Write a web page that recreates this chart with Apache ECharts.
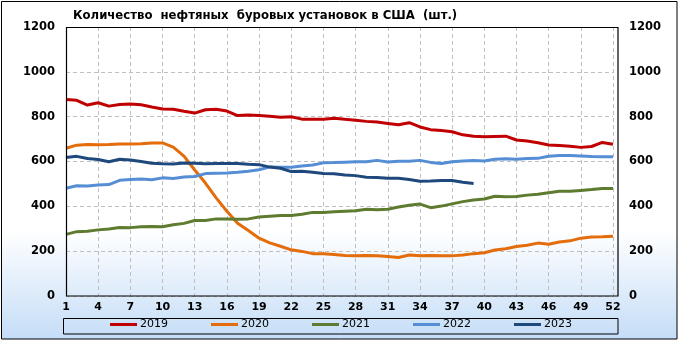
<!DOCTYPE html>
<html>
<head>
<meta charset="utf-8">
<script src="https://cdn.jsdelivr.net/npm/echarts@6/dist/echarts.min.js"></script>
<style>html,body{margin:0;padding:0;background:#fff;}#c{width:682px;height:341px;}</style>
</head>
<body>
<div id="c"></div>
<script>
const titleText = 'Количество  нефтяных  буровых установок в США  (шт.)';
const weeks = [];
for (let i = 1; i <= 52; i++) weeks.push(String(i));
const yTicks = { min: 0, max: 1200, interval: 200 };

const s2019 = [877,873,852,862,847,854,857,853,843,834,833,824,816,831,833,825,805,807,805,802,797,800,789,788,789,793,788,784,779,776,770,764,773,754,742,738,733,719,713,710,712,713,696,691,684,674,671,668,663,667,685,677];
const s2020 = [659,673,676,675,676,678,678,679,682,683,664,624,562,504,438,378,325,292,258,237,222,206,199,189,188,185,181,180,181,180,176,172,183,180,181,180,179,183,189,193,205,211,221,226,236,231,241,246,258,263,264,267];
const s2021 = [275,287,289,295,299,306,305,309,310,309,318,324,337,337,344,343,342,344,352,356,359,359,365,373,372,376,378,380,387,385,387,397,405,410,394,401,411,421,428,433,445,443,444,450,454,461,467,467,471,475,480,480];
const s2022 = [481,492,491,495,497,516,520,522,519,527,524,531,533,546,548,549,552,557,563,576,574,574,580,584,594,595,597,599,599,605,598,601,601,605,596,591,599,602,604,602,610,612,610,613,614,623,627,627,625,622,621,621];
const s2023 = [618,623,613,609,599,610,607,600,592,590,589,593,592,590,591,591,591,588,586,575,570,555,556,552,546,545,540,537,530,529,525,525,520,512,513,515,515,507,502];

const seriesNames = ['2019','2020','2021','2022','2023'];
const seriesData = [s2019, s2020, s2021, s2022, s2023];
const colors = ['#C00000','#E46C0A','#5E7B2F','#558ED5','#1F497D'];

const chart = echarts.init(document.getElementById('c'), null, {renderer:'canvas'});
const FONT = 'DejaVu Sans';
const plain = v => String(v);
const option = {
  backgroundColor: '#ffffff',
  animation: false,
  textStyle: { fontFamily: FONT },
  title: {
    text: titleText, left: 68, top: 5,
    textStyle: { fontFamily: FONT, fontSize: 11.7, fontWeight: 'bold', color: '#000' }
  },
  graphic: [
    { type: 'rect', z: -10, silent: true,
      shape: { x: 1.5, y: 1.5, width: 675.5, height: 337.5 },
      style: { fill: new echarts.graphic.LinearGradient(0,0,0,1,[
        {offset:0,color:'#ffffff'},{offset:0.68,color:'#ffffff'},{offset:1,color:'#C4DDF7'}]),
        stroke: '#000', lineWidth: 1 } },
    { type: 'rect', z: 5, silent: true,
      shape: { x: 66.5, y: 27.5, width: 551.5, height: 268.5 },
      style: { fill: 'none', stroke: '#000', lineWidth: 1.2 } },
    { type: 'rect', z: 5, silent: true,
      shape: { x: 63.5, y: 318.5, width: 554.5, height: 15.5 },
      style: { fill: 'none', stroke: '#000', lineWidth: 1 } }
  ],
  legend: {
    data: seriesNames, top: 319, left: 110, padding: 0,
    itemWidth: 27, itemHeight: 3, itemGap: 43, icon: 'rect',
    textStyle: { fontFamily: FONT, fontSize: 11, color: '#000', padding: [0,0,0,-2] }
  },
  grid: { left: 66, right: 69, top: 27, bottom: 45, containLabel: false },
  xAxis: {
    type: 'category', data: weeks, boundaryGap: false,
    axisLine: { show: false }, axisTick: { show: false },
    axisLabel: { interval: 2, margin: 6, fontFamily: FONT, fontSize: 11, fontWeight: 'bold', color: '#000' },
    splitLine: { show: true, interval: 2, lineStyle: { color: '#BFBFBF', type: [4,3], width: 1 } }
  },
  yAxis: [
    { type: 'value', min: yTicks.min, max: yTicks.max, interval: yTicks.interval, position: 'left',
      axisLine: { show: false }, axisTick: { show: false },
      axisLabel: { formatter: plain, margin: 11, fontFamily: FONT, fontSize: 11.5, fontWeight: 'bold', color: '#000' },
      splitLine: { show: true, lineStyle: { color: '#BFBFBF', type: [4,3], width: 1 } } },
    { type: 'value', min: yTicks.min, max: yTicks.max, interval: yTicks.interval, position: 'right',
      axisLine: { show: false }, axisTick: { show: false },
      axisLabel: { formatter: plain, margin: 16, fontFamily: FONT, fontSize: 11.5, fontWeight: 'bold', color: '#000' },
      splitLine: { show: false } }
  ],
  series: seriesNames.map((n, i) => ({
    name: n, type: 'line', data: seriesData[i], yAxisIndex: 0,
    showSymbol: false, symbol: 'none', smooth: false,
    lineStyle: { color: colors[i], width: 3 }, itemStyle: { color: colors[i] }
  }))
};
chart.setOption(option);
</script>
</body>
</html>
